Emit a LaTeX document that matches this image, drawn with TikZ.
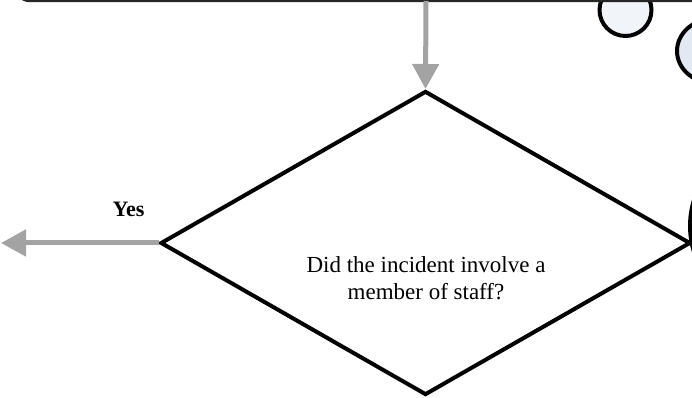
\documentclass[tikz,border=0pt]{standalone}
\usepackage{fontspec}
\setmainfont{Liberation Serif}
\usetikzlibrary{shapes.geometric,arrows.meta}
\definecolor{flowgrey}{HTML}{A3A3A3}
\definecolor{bubblepale}{HTML}{F1F4F8}
\definecolor{bubbleblue}{HTML}{E3E9F2}
\begin{document}
\begin{tikzpicture}[x=1pt,y=1pt,
  flow/.style={draw=flowgrey,line width=5pt,-{Triangle[length=25pt,width=26pt]}},
  bubble/.style={ellipse,draw,line width=4pt,inner sep=0pt}]
\clip (0,0) rectangle (692,398);
\node (bubA) [bubble,fill=bubblepale,minimum width=52pt,minimum height=52pt] at (625.5,388) {};
\node (bubB) [bubble,fill=bubbleblue,minimum width=72pt,minimum height=64pt] at (713,347) {};
\node (bubC) [bubble,fill=bubbleblue,minimum width=172pt,minimum height=172pt] at (776,172) {};
\node (prev) [draw=black!85,line width=2.5pt,rounded corners=15pt,outer sep=0pt,
  minimum width=822pt,minimum height=80pt,anchor=south] at (426,397) {};
\node (dia) [diamond,draw,line width=4pt,inner sep=0pt,
  minimum width=530pt,minimum height=304pt] at (425.5,155) {};
\node (q) [align=center,anchor=base,font=\fontsize{23}{27}\selectfont] at (426,98)
  {Did the incident involve a\\member of staff?};
\coordinate (out) at (1,155);
\draw[flow] (prev.south) -- (dia.north);
\draw[flow] (dia.west) -- (out)
  node[pos=.19,above=24pt,inner sep=0pt,font=\bfseries\fontsize{22}{27}\selectfont] (yes) {Yes};
\end{tikzpicture}
\end{document}
